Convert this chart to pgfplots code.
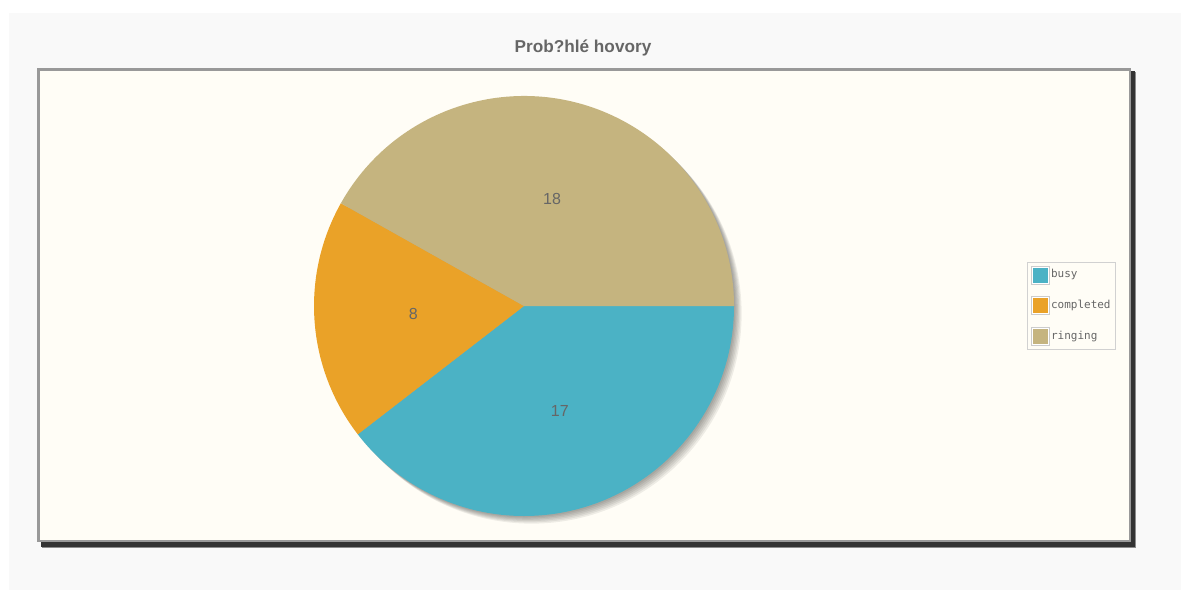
\documentclass[border=0pt]{standalone}
\usepackage{pgfplots}
\pgfplotsset{compat=1.18}
\usepackage{pgfplotstable}
\usepackage{fontspec}
\setmainfont{Liberation Sans}
\newfontfamily\monofont{DejaVu Sans Mono}
\definecolor{busy}{HTML}{4BB2C5}
\definecolor{completed}{HTML}{EAA228}
\definecolor{ringing}{HTML}{C5B47F}
\definecolor{cream}{HTML}{FFFDF6}
\definecolor{outerbg}{HTML}{F9F9F9}
\definecolor{framegray}{HTML}{999999}
\definecolor{txtgray}{HTML}{666666}
\pgfplotstableread{
label value
busy 17
completed 8
ringing 18
}\piedata
\begin{document}
\begin{tikzpicture}
\pgfplotstablegetelem{0}{value}\of\piedata \let\vA\pgfplotsretval
\pgfplotstablegetelem{1}{value}\of\piedata \let\vB\pgfplotsretval
\pgfplotstablegetelem{2}{value}\of\piedata \let\vC\pgfplotsretval
\pgfmathsetmacro\total{\vA+\vB+\vC}
\pgfmathsetmacro\aA{-360*\vA/\total}
\pgfmathsetmacro\aB{\aA-360*\vB/\total}
\pgfmathsetmacro\aC{\aB-360*\vC/\total}
\pgfmathsetmacro\mA{\aA/2}
\pgfmathsetmacro\mB{(\aA+\aB)/2}
\pgfmathsetmacro\mC{(\aB+\aC)/2}
\begin{axis}[
  x=0.5pt, y=0.5pt,
  xmin=0, xmax=1181, ymin=0, ymax=590,
  hide axis, clip=false,
  legend style={
    at={(axis cs:1027,328)}, anchor=north west,
    draw=black!18, fill=cream,
    font=\monofont\fontsize{5.5}{6}\selectfont,
    text=txtgray,
    inner sep=1.6pt, row sep=6pt,
    nodes={inner sep=0.8pt},
    legend cell align=left,
  },
]
% page backgrounds
\fill[white] (axis cs:0,0) rectangle (axis cs:1181,590);
\fill[outerbg] (axis cs:9,0) rectangle (axis cs:1181,577);
% frame shadow and frame
\fill[black!45] (axis cs:42,42) rectangle (axis cs:1136,518);
\fill[black!80] (axis cs:41,43) rectangle (axis cs:1135,519);
\fill[framegray] (axis cs:37,48) rectangle (axis cs:1131,522);
\fill[cream] (axis cs:40,50) rectangle (axis cs:1129,519);
% title
\node[text=txtgray, font=\bfseries\fontsize{8.6}{10}\selectfont] at (axis cs:583,542) {Prob?hlé hovory};
% pie shadow
\pgfplotsinvokeforeach{1,2,3,4,5,6}{
  \fill[black, opacity=0.065] ([shift={(-45:#1*0.9pt)}]axis cs:524,284) circle[radius=105pt];
}
% slices
\fill[busy] (axis cs:524,284) -- ++(0:105pt) arc[start angle=0, end angle=\aA, radius=105pt] -- cycle;
\fill[completed] (axis cs:524,284) -- ++(\aA:105pt) arc[start angle=\aA, end angle=\aB, radius=105pt] -- cycle;
\fill[ringing] (axis cs:524,284) -- ++(\aB:105pt) arc[start angle=\aB, end angle=\aC, radius=105pt] -- cycle;
% labels
\node[text=txtgray, font=\fontsize{8}{9}\selectfont] at ([shift={(\mA:55.5pt)}]axis cs:524,284) {\vA};
\node[text=txtgray, font=\fontsize{8}{9}\selectfont] at ([shift={(\mB:55.5pt)}]axis cs:524,284) {\vB};
\node[text=txtgray, font=\fontsize{8}{9}\selectfont] at ([shift={(\mC:55.5pt)}]axis cs:524,284) {\vC};
% legend
\addlegendimage{legend image code/.code={\fill[black!20] (0pt,-4.5pt) rectangle (9pt,4.5pt); \fill[white] (0.5pt,-4pt) rectangle (8.5pt,4pt); \fill[busy] (1pt,-3.5pt) rectangle (8pt,3.5pt);}}
\addlegendentry{busy}
\addlegendimage{legend image code/.code={\fill[black!20] (0pt,-4.5pt) rectangle (9pt,4.5pt); \fill[white] (0.5pt,-4pt) rectangle (8.5pt,4pt); \fill[completed] (1pt,-3.5pt) rectangle (8pt,3.5pt);}}
\addlegendentry{completed}
\addlegendimage{legend image code/.code={\fill[black!20] (0pt,-4.5pt) rectangle (9pt,4.5pt); \fill[white] (0.5pt,-4pt) rectangle (8.5pt,4pt); \fill[ringing] (1pt,-3.5pt) rectangle (8pt,3.5pt);}}
\addlegendentry{ringing}
\end{axis}
\end{tikzpicture}
\end{document}
